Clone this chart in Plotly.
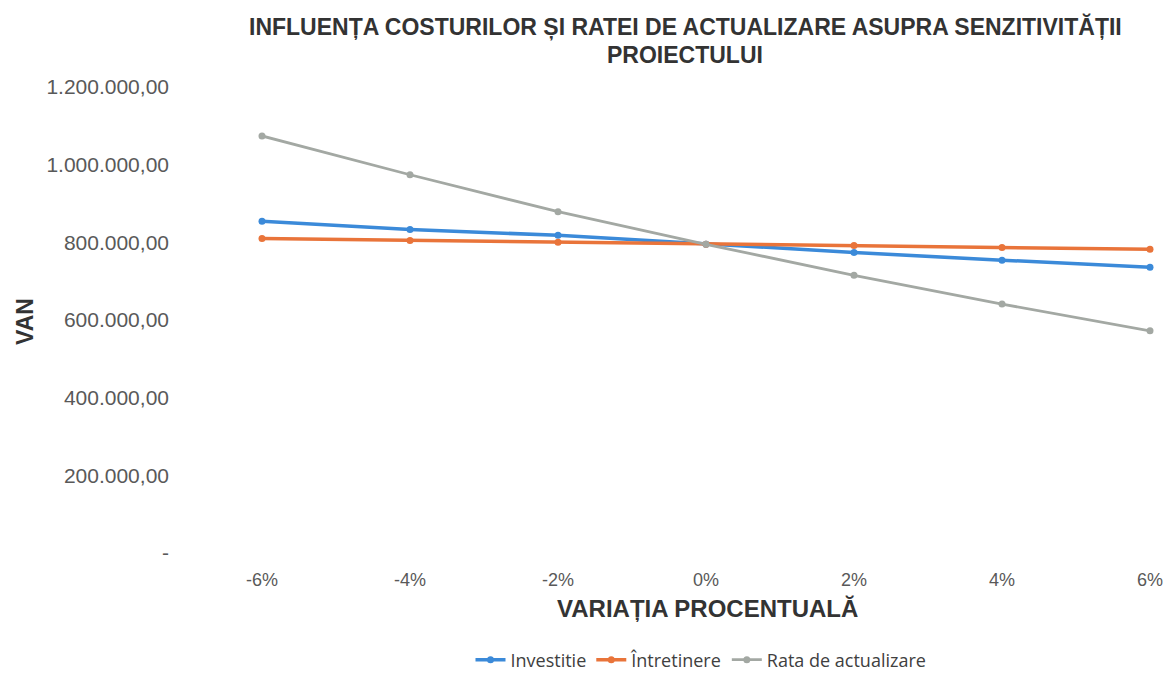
import plotly.graph_objects as go

categories = [-6, -4, -2, 0, 2, 4, 6]
tick_labels_x = ["-6%", "-4%", "-2%", "0%", "2%", "4%", "6%"]
investitie = [854000, 833000, 818000, 795000, 774000, 754000, 736000]
intretinere = [810000, 805000, 800000, 795000, 792000, 787000, 782000]
rata = [1074000, 974000, 879000, 795000, 715000, 641000, 572000]
y_tickvals = [0, 200000, 400000, 600000, 800000, 1000000, 1200000]
y_ticktext = ["-", "200.000,00", "400.000,00", "600.000,00", "800.000,00", "1.000.000,00", "1.200.000,00"]

series = [
    ("Investitie", investitie, "#3b8ad9", 3.5),
    ("Întretinere", intretinere, "#e9743a", 3.5),
    ("Rata de actualizare", rata, "#a3a8a3", 2.8),
]

W, H = 1169, 673
L, R, T, B = 262, 19, 87, 120

fig = go.Figure()
for name, vals, color, w in series:
    fig.add_trace(go.Scatter(
        x=categories, y=vals, name=name, mode="lines+markers",
        line=dict(color=color, width=w),
        marker=dict(color=color, size=7),
        cliponaxis=False,
    ))

fig.update_layout(
    width=W, height=H,
    paper_bgcolor="white", plot_bgcolor="white",
    margin=dict(l=L, r=R, t=T, b=B, autoexpand=False),
    showlegend=True,
    legend=dict(
        orientation="h", x=701 / W, xanchor="center", xref="container",
        y=(H - 660) / H, yanchor="middle", yref="container",
        font=dict(family="Open Sans, Lato", size=18, color="#404040"),
        itemwidth=30, tracegroupgap=0,
    ),
    font=dict(family="Liberation Sans, Arial"),
)

# title (two lines) as annotations in paper coords
title_lines = ["INFLUENȚA COSTURILOR ȘI RATEI DE ACTUALIZARE ASUPRA SENZITIVITĂȚII", "PROIECTULUI"]
title_y = [27, 55]
for txt, yy in zip(title_lines, title_y):
    fig.add_annotation(
        text=txt, xref="paper", yref="paper",
        x=(685 - L) / (W - L - R), y=(H - B - yy) / (H - T - B),
        xanchor="center", yanchor="middle", showarrow=False,
        font=dict(size=23, color="#333333", weight="bold"),
    )

fig.update_xaxes(
    range=[-6, 6], tickvals=categories, ticktext=tick_labels_x,
    showgrid=False, zeroline=False, showline=False, automargin=False,
    tickfont=dict(size=18, color="#595959"),
    ticks="", ticklabelstandoff=14,
)
fig.update_yaxes(
    range=[0, 1200000], tickvals=y_tickvals, ticktext=y_ticktext,
    showgrid=False, zeroline=False, showline=False, automargin=False,
    tickfont=dict(size=21, color="#595959"),
    ticks="", ticklabelstandoff=92,
)

# axis titles
fig.add_annotation(
    text="VARIAȚIA PROCENTUALĂ", xref="paper", yref="paper",
    x=(707 - L) / (W - L - R), y=(H - B - 608) / (H - T - B),
    xanchor="center", yanchor="middle", showarrow=False,
    font=dict(size=24, color="#333333", weight="bold"),
)
fig.add_annotation(
    text="VAN", textangle=-90, xref="paper", yref="paper",
    x=(25 - L) / (W - L - R), y=(H - B - 322) / (H - T - B),
    xanchor="center", yanchor="middle", showarrow=False,
    font=dict(size=23, color="#333333", weight="bold"),
)

fig.write_html("out.html", config={"displayModeBar": False},
               post_script="document.body.style.margin='0';")
